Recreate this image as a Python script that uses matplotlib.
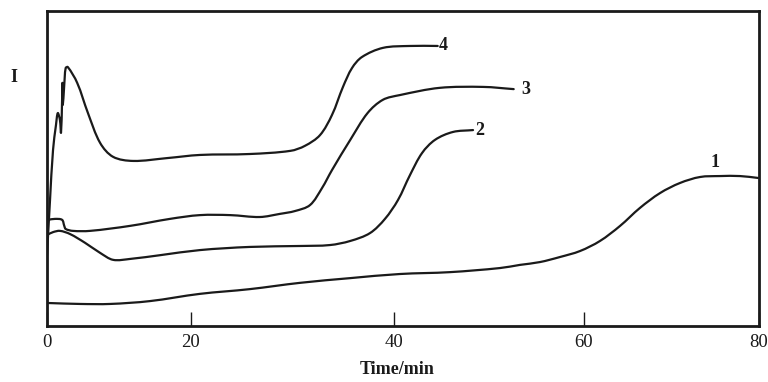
import numpy as np
import matplotlib
matplotlib.use("Agg")
import matplotlib.pyplot as plt
from matplotlib.path import Path
from matplotlib.patches import PathPatch

# Time axis as printed: the tick marks are not evenly spaced on the page,
# so a piecewise-linear scale reproduces the printed axis.
tick_minutes = [0, 20, 40, 60, 80]
tick_positions = [0.0, 143.7, 347.0, 537.0, 712.0]

# Current (arbitrary units) vs time (min) for runs 1-4
t1 = [0.14, 4.6, 8.8, 14.3, 20.9, 25.8, 30.75, 35.7, 40.6, 45.9, 51.16,
      53.26, 55.37, 57.47, 59.58, 61.83, 64.11, 66.4, 68.69, 70.97, 73.26,
      75.54, 77.83, 79.89]
i1 = [7.3, 7.0, 7.0, 7.9, 10.2, 11.7, 13.7, 15.2, 16.5, 17.1, 18.4,
      19.4, 20.3, 21.9, 23.8, 27.0, 31.75, 37.5, 42.2, 45.4, 47.3,
      47.6, 47.6, 47.0]

t2 = [0.0, 0.84, 1.8, 3.2, 5.3, 7.4, 9.2, 11.6, 15.8, 20.9, 25.8, 30.75,
      33.7, 35.7, 37.64, 39.11, 40.42, 41.68, 42.95, 44.32, 46.21, 48.32]
i2 = [28.9, 29.8, 30.2, 29.2, 26.4, 23.2, 21.0, 21.3, 22.5, 24.1, 25.1, 25.4,
      25.7, 27.0, 29.5, 34.0, 40.0, 47.9, 54.9, 59.1, 61.6, 62.2]

t3 = [0.14, 1.1, 2.1, 2.4, 2.6, 3.6, 6.0, 11.6, 17.1, 20.9, 23.9, 26.8,
      28.79, 30.26, 31.74, 32.92, 33.9, 35.7, 37.4, 38.9, 40.6, 44.8, 49.4,
      52.6]
i3 = [33.7, 34.0, 33.7, 31.8, 30.8, 30.2, 30.2, 31.8, 34.0, 35.2, 35.2, 34.6,
      35.6, 36.5, 38.4, 43.8, 49.5, 59.1, 67.6, 71.8, 73.3, 75.6, 75.9, 75.2]

t4 = [0.0, 0.42, 0.84, 1.25, 1.5, 1.8, 1.95, 2.1, 2.15, 2.2, 2.4, 2.6, 2.9,
      4.2, 5.7, 7.4, 9.2, 12.0, 16.7, 20.9, 25.8, 29.8, 31.24, 32.72, 33.9,
      34.98, 35.87, 36.85, 38.92, 41.7, 44.6]
i4 = [22.5, 40.0, 55.9, 63.8, 67.6, 65.4, 61.3, 71.8, 77.2, 70.2, 76.5, 81.9,
      82.2, 77.2, 67.6, 58.1, 53.7, 52.4, 53.3, 54.3, 54.6, 55.6, 57.2, 60.6,
      67.0, 75.9, 81.9, 85.4, 88.3, 88.9, 88.9]

series = [(t1, i1, "1"), (t2, i2, "2"), (t3, i3, "3"), (t4, i4, "4")]

# Curve label anchor points (time, current)
label_t = [75.0, 48.6, 53.4, 44.7]
label_i = [51.8, 62.2, 75.2, 88.9]

Y_ASPECT = 3.15  # vertical units per current unit, matching the horizontal scale


def forward(x):
    return np.interp(x, tick_minutes, tick_positions)


def inverse(x):
    return np.interp(x, tick_positions, tick_minutes)


def smooth_path(t, i):
    """Cubic Bezier path through the measured points (chord-length tangents)."""
    P = np.column_stack([forward(np.asarray(t, float)),
                         np.asarray(i, float) * Y_ASPECT])
    n = len(P)
    d = np.linalg.norm(np.diff(P, axis=0), axis=1)
    d = np.maximum(d, 1e-6)
    m = np.zeros_like(P)
    m[0] = (P[1] - P[0]) / d[0]
    m[-1] = (P[-1] - P[-2]) / d[-1]
    for k in range(1, n - 1):
        m[k] = (P[k + 1] - P[k - 1]) / (d[k - 1] + d[k])
    verts = [P[0]]
    codes = [Path.MOVETO]
    for k in range(n - 1):
        c1 = P[k] + m[k] * d[k] / 3
        c2 = P[k + 1] - m[k + 1] * d[k] / 3
        verts += [c1, c2, P[k + 1]]
        codes += [Path.CURVE4] * 3
    V = np.array(verts)
    V = np.column_stack([inverse(V[:, 0]), V[:, 1] / Y_ASPECT])
    return Path(V, codes)


serif = ["Liberation Serif", "DejaVu Serif"]
plt.rcParams["font.family"] = serif

fig = plt.figure(figsize=(7.68, 3.82), dpi=100)
ax = fig.add_axes([47 / 768, 1 - 326 / 382, (759 - 47) / 768, (326 - 11) / 382])
ax.set_xscale("function", functions=(forward, inverse))

ink = "#1a1a1a"
for t, i, name in series:
    ax.add_patch(PathPatch(smooth_path(t, i), facecolor="none", edgecolor=ink,
                           lw=1.6, joinstyle="round", capstyle="round"))

for lt, li, (_, _, name) in zip(label_t, label_i, series):
    ax.text(lt, li, name, ha="left" if name != "1" else "center", va="center",
            fontsize=13, fontweight="bold", color=ink)

ax.set_xlim(0, 80)
ax.set_ylim(0, 100)
ax.set_xticks(tick_minutes)
ax.set_xticklabels([str(v) for v in tick_minutes])
ax.set_yticks([])
ax.tick_params(axis="x", direction="in", length=10, width=1, pad=6,
               labelsize=13.5, colors=ink)
for s in ax.spines.values():
    s.set_linewidth(2)
    s.set_color(ink)

fig.text(397 / 768, 1 - 369 / 382, "Time/min", ha="center", va="center",
         fontsize=13, fontweight="bold", color=ink)
fig.text(14 / 768, 1 - 78 / 382, "I", ha="center", va="center",
         fontsize=13, fontweight="bold", color=ink)

fig.savefig("out.png", dpi=100)
